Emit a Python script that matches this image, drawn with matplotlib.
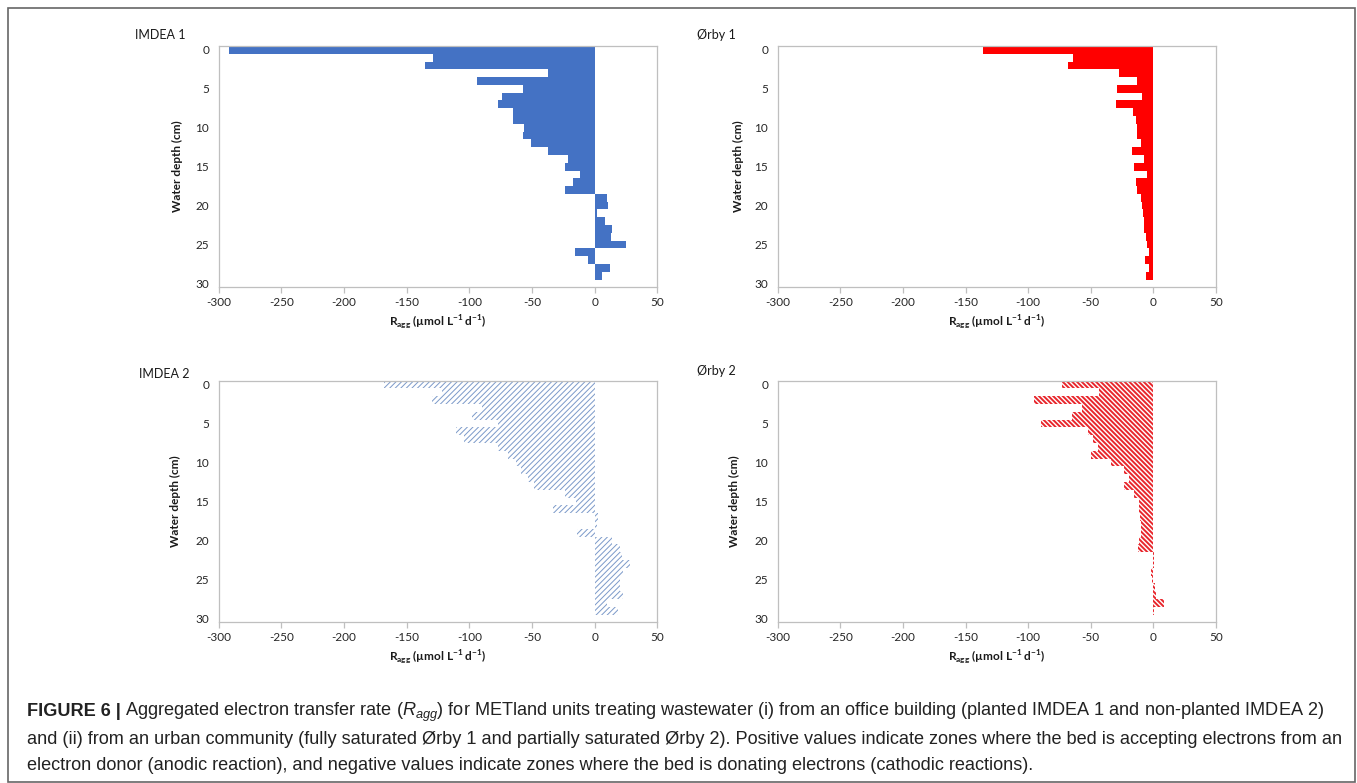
import matplotlib
matplotlib.use('Agg')
import matplotlib.pyplot as plt
from matplotlib.patches import Rectangle

W, H = 1357, 783

# depth classes (cm), one bar per cm
depth_cm = [0, 1, 2, 3, 4, 5, 6, 7, 8, 9, 10, 11, 12, 13, 14,
            15, 16, 17, 18, 19, 20, 21, 22, 23, 24, 25, 26, 27, 28, 29]

# R_agg (umol L-1 d-1)
imdea1_rate = [-292, -129, -135, -37, -94, -57, -74, -77, -65, -65,
               -56, -57, -51, -37, -21, -24, -12, -17, -24, 10,
               11, 2, 8, 14, 13, 25, -16, -5, 12, 6]
orby1_rate = [-136, -64, -68, -27, -13, -29, -9, -30, -16, -14,
              -13, -13, -10, -17, -7, -15, -5, -14, -13, -10,
              -9, -8, -7.5, -7, -5.5, -5, -3, -6.3, -3.6, -5.8]
imdea2_rate = [-168, -122, -130, -90, -98, -77, -111, -104, -77, -69,
               -63, -59, -53, -48, -24, -15, -33, 3, 2, -14,
               14, 20, 22, 28, 23, 20, 20, 23, 10, 19]
orby2_rate = [-73, -43, -95, -57, -65, -90, -52, -48, -44, -50,
              -34, -23, -19.5, -23, -15, -11, -11, -10.5, -10, -10,
              -11.5, -12, 1, 0.6, -1.5, -1, 1.5, 2.5, 9, 0.3]

panel_titles = ['IMDEA 1', 'Ørby 1', 'IMDEA 2', 'Ørby 2']
x_ticks = [-300, -250, -200, -150, -100, -50, 0, 50]
y_ticks = [0, 5, 10, 15, 20, 25, 30]

caption_bold = 'FIGURE 6 |'
caption_lines = [
    'Aggregated electron transfer rate ($R_{agg}$) for METland units treating wastewater (i) from an office building (planted IMDEA 1 and non-planted IMDEA 2)',
    'and (ii) from an urban community (fully saturated Ørby 1 and partially saturated Ørby 2). Positive values indicate zones where the bed is accepting electrons from an',
    'electron donor (anodic reaction), and negative values indicate zones where the bed is donating electrons (cathodic reactions).',
]

plt.rcParams['font.family'] = ['Lato', 'DejaVu Sans']
plt.rcParams['axes.unicode_minus'] = False
plt.rcParams['mathtext.fontset'] = 'custom'
plt.rcParams['mathtext.rm'] = 'Lato'
plt.rcParams['mathtext.bf'] = 'Lato:bold'
plt.rcParams['mathtext.it'] = 'Liberation Sans:italic'

fig = plt.figure(figsize=(W / 100, H / 100), dpi=100)


def px_axes(left, top, right, bottom):
    return fig.add_axes([left / W, 1 - bottom / H, (right - left) / W, (bottom - top) / H])


def ftext(x, y, s, **kw):
    return fig.text(x / W, 1 - y / H, s, **kw)


grey = '#bfbfbf'
panels = [
    # rates, box (l, t, r, b), face, hatch, hatch colour, hatch lw, title pos, ylabel x
    (imdea1_rate, (218.8, 46, 657.2, 287.3), '#4472c4', None, None, 0, (135, 35), 177),
    (orby1_rate, (777.8, 46, 1215.8, 287.3), '#ff0000', None, None, 0, (697, 35), 738),
    (imdea2_rate, (218.8, 380.7, 657.2, 622.3), 'none', '//////', '#7b99c9', 0.7, (139, 374), 175),
    (orby2_rate, (777.8, 380.7, 1215.8, 622.3), 'none', '\\' * 7, '#e8262c', 1.4, (697, 371), 734),
]

for (rates, box, face, hatch, hcol, hlw, tpos, ylx), title in zip(panels, panel_titles):
    ax = px_axes(*box)
    if hatch is None:
        ax.barh(depth_cm, rates, height=1.0, color=face, linewidth=0)
    else:
        with plt.rc_context({'hatch.linewidth': hlw}):
            bars = ax.barh(depth_cm, rates, height=1.0, facecolor='none',
                           edgecolor=hcol, linewidth=0, hatch=hatch)
        for b in bars:
            if hasattr(b, 'set_hatch_linewidth'):
                b.set_hatch_linewidth(hlw)
    ax.set_xlim(-300, 50)
    ax.set_ylim(30.5, -0.5)
    ax.set_xticks(x_ticks)
    ax.set_yticks(y_ticks)
    for sp in ax.spines.values():
        sp.set_color(grey)
        sp.set_linewidth(0.9)
    ax.tick_params(axis='x', direction='out', length=4, width=0.9, color=grey,
                   labelsize=8.5, labelcolor='#262626', pad=3)
    ax.tick_params(axis='y', length=0, labelsize=8.5, labelcolor='#262626', pad=7)

    ftext(tpos[0], tpos[1], title, fontsize=9, color='#1a1a1a', va='center', ha='left')
    ftext(ylx, (box[1] + box[3]) / 2, 'Water depth (cm)', fontsize=8.5, fontweight='bold',
          rotation=90, va='center', ha='center', color='#1a1a1a')
    ftext((box[0] + box[2]) / 2, box[3] + 35,
          r'$\mathbf{R_{agg}}$ (µmol L$^{\mathbf{-1}}$ d$^{\mathbf{-1}}$)',
          fontsize=8.5, fontweight='bold', va='center', ha='center', color='#1a1a1a')

# caption
cap_kw = dict(fontsize=13.1, color='#222222', va='center', ha='left', family=['Liberation Sans', 'DejaVu Sans'])
tb = ftext(27, 712, caption_bold, fontweight='bold', **cap_kw)
fig.canvas.draw()
bb = tb.get_window_extent(fig.canvas.get_renderer())
ftext(bb.x1 + 4, 712, caption_lines[0], **cap_kw)
ftext(27, 739, caption_lines[1], **cap_kw)
ftext(27, 765, caption_lines[2], **cap_kw)

# outer frame
fig.patches.append(Rectangle((8 / W, 1 / H), (1355 - 8) / W, (775 - 1) / H,
                             transform=fig.transFigure, fill=False,
                             edgecolor='#666666', linewidth=1.2))

fig.savefig('out.png', dpi=100)
